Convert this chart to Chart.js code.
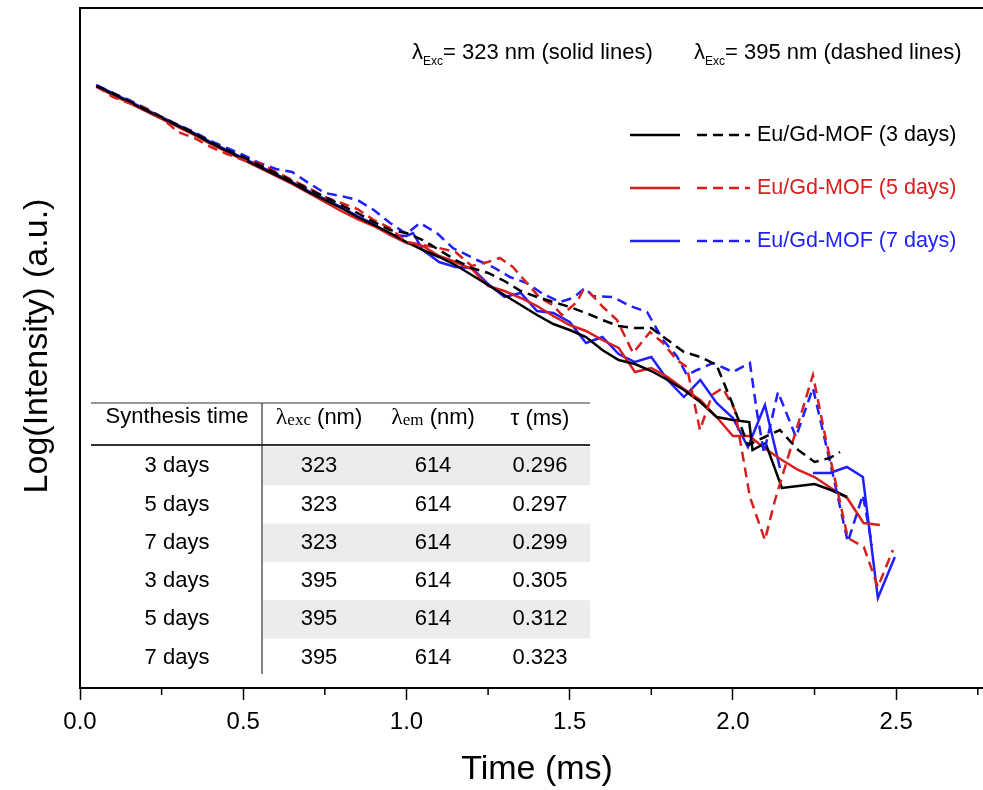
<!DOCTYPE html>
<html>
<head>
<meta charset="utf-8">
<script src="https://cdn.jsdelivr.net/npm/chart.js@4.4.0/dist/chart.umd.min.js"></script>
<style>
  html, body { margin: 0; padding: 0; background: #fff; }
  #wrap { width: 983px; height: 790px; }
</style>
</head>
<body>
<div id="wrap"><canvas id="decayChart" width="983" height="790"></canvas></div>
<script>
// decay curves, time in ms, log intensity in arbitrary units
const t3s = [0.05,0.10,0.15,0.20,0.25,0.30,0.35,0.40,0.45,0.50,0.55,0.60,0.65,0.70,0.75,0.80,0.85,0.90,0.95,1.00,1.05,1.10,1.15,1.20,1.25,1.30,1.35,1.40,1.45,1.50,1.55,1.60,1.65,1.70,1.75,1.80,1.85,1.90,1.95,2.00,2.05,2.06,2.10,2.15,2.20,2.25,2.30,2.35];
const y3s = [6.02,5.94,5.86,5.78,5.70,5.62,5.54,5.45,5.37,5.29,5.21,5.13,5.05,4.96,4.88,4.80,4.71,4.63,4.55,4.46,4.38,4.31,4.23,4.13,4.03,3.93,3.83,3.73,3.64,3.58,3.51,3.38,3.28,3.24,3.17,3.08,2.98,2.86,2.71,2.68,2.66,2.38,2.45,2.00,2.02,2.04,1.98,1.91];

const t3d = [0.05,0.10,0.15,0.20,0.25,0.30,0.35,0.40,0.45,0.50,0.55,0.60,0.65,0.70,0.75,0.80,0.85,0.90,0.95,1.00,1.05,1.10,1.15,1.20,1.25,1.30,1.35,1.40,1.45,1.50,1.55,1.60,1.65,1.70,1.75,1.80,1.85,1.90,1.95,2.00,2.046,2.098,2.144,2.20,2.25,2.297,2.328];
const y3d = [6.02,5.95,5.87,5.79,5.71,5.63,5.55,5.46,5.38,5.31,5.23,5.15,5.07,4.99,4.91,4.83,4.75,4.66,4.58,4.55,4.48,4.38,4.28,4.20,4.15,4.07,3.97,3.91,3.86,3.81,3.75,3.68,3.62,3.60,3.60,3.48,3.36,3.31,3.23,2.83,2.43,2.51,2.58,2.38,2.26,2.30,2.36];

const t5s = [0.05,0.10,0.15,0.20,0.25,0.30,0.35,0.40,0.45,0.50,0.55,0.60,0.65,0.70,0.75,0.80,0.85,0.90,0.95,1.00,1.05,1.10,1.15,1.20,1.25,1.30,1.35,1.40,1.45,1.50,1.55,1.60,1.65,1.70,1.75,1.80,1.85,1.90,1.95,2.00,2.05,2.10,2.15,2.20,2.25,2.30,2.35,2.40,2.45];
const y5s = [6.01,5.93,5.85,5.77,5.69,5.61,5.53,5.44,5.36,5.28,5.20,5.12,5.04,4.95,4.86,4.77,4.69,4.62,4.53,4.45,4.42,4.32,4.26,4.19,4.02,3.97,3.90,3.82,3.72,3.63,3.57,3.48,3.40,3.16,3.20,3.11,2.99,2.88,2.71,2.52,2.52,2.39,2.28,2.18,2.11,2.00,1.90,1.65,1.63];

const t5d = [0.05,0.10,0.15,0.20,0.25,0.30,0.35,0.40,0.45,0.50,0.55,0.60,0.65,0.70,0.75,0.80,0.85,0.90,0.95,1.00,1.05,1.10,1.15,1.20,1.25,1.286,1.326,1.369,1.409,1.449,1.476,1.522,1.541,1.562,1.602,1.645,1.694,1.746,1.786,1.828,1.859,1.899,1.936,1.969,2.006,2.052,2.098,2.129,2.245,2.285,2.322,2.352,2.401,2.444,2.490];
const y5d = [6.02,5.91,5.85,5.80,5.70,5.56,5.50,5.41,5.34,5.28,5.25,5.16,5.08,5.00,4.91,4.85,4.79,4.68,4.60,4.46,4.43,4.40,4.36,4.22,4.26,4.30,4.21,4.05,3.90,3.83,3.73,3.86,3.98,3.95,3.81,3.68,3.35,3.56,3.45,3.28,3.21,2.58,2.93,3.00,2.78,1.91,1.48,1.88,3.13,2.48,1.95,1.50,1.41,1.01,1.38];

const t7s = [0.05,0.10,0.15,0.20,0.25,0.30,0.35,0.40,0.45,0.50,0.55,0.60,0.65,0.70,0.75,0.80,0.85,0.90,0.95,1.00,1.02,1.05,1.10,1.15,1.20,1.25,1.30,1.35,1.40,1.45,1.50,1.55,1.60,1.65,1.70,1.75,1.80,1.85,1.90,1.95,2.00,2.046,2.098,2.144,2.20,2.245,2.297,2.349,2.398,2.444,2.496];
const y7s = [6.03,5.95,5.87,5.79,5.71,5.63,5.55,5.46,5.38,5.30,5.22,5.14,5.06,4.97,4.89,4.81,4.72,4.64,4.53,4.52,4.55,4.38,4.26,4.21,4.20,4.04,3.91,3.95,3.77,3.75,3.66,3.45,3.51,3.34,3.26,3.31,3.08,2.91,3.08,2.85,2.70,2.41,2.83,2.20,null,2.15,2.15,2.21,2.11,0.90,1.31];

const t7d = [0.05,0.10,0.15,0.20,0.25,0.30,0.35,0.40,0.45,0.50,0.55,0.60,0.65,0.70,0.75,0.80,0.85,0.90,0.95,1.00,1.041,1.093,1.142,1.216,1.265,1.317,1.369,1.418,1.470,1.510,1.547,1.571,1.632,1.685,1.737,1.786,1.828,1.859,1.890,1.939,2.000,2.052,2.074,2.095,2.138,2.193,2.245,2.303,2.352,2.398,2.426];
const y7d = [6.03,5.95,5.88,5.80,5.71,5.63,5.56,5.47,5.40,5.33,5.25,5.19,5.16,5.05,4.95,4.92,4.88,4.78,4.65,4.54,4.65,4.55,4.40,4.28,4.21,4.11,4.05,3.94,3.86,3.90,4.00,3.92,3.91,3.82,3.76,3.48,3.32,3.13,3.18,3.25,3.16,3.25,2.75,2.35,2.96,2.51,3.00,2.18,1.46,1.93,1.43];

const xTicks = [0, 0.5, 1.0, 1.5, 2.0, 2.5];
const xMinorTicks = [0.25, 0.75, 1.25, 1.75, 2.25, 2.75];

const legendLabels = ['Eu/Gd-MOF (3 days)', 'Eu/Gd-MOF (5 days)', 'Eu/Gd-MOF (7 days)'];

const tableTimes = ['3 days', '5 days', '7 days', '3 days', '5 days', '7 days'];
const tableExc = ['323', '323', '323', '395', '395', '395'];
const tableEm = ['614', '614', '614', '614', '614', '614'];
const tableTau = ['0.296', '0.297', '0.299', '0.305', '0.312', '0.323'];

const BLACK = '#000000';
const RED = '#d91e1e';
const BLUE = '#1f1fff';
const SANS = '"Liberation Sans", Arial, sans-serif';
const SERIF = '"Liberation Serif", "Times New Roman", serif';

function pts(t, y) {
  return t.map((x, i) => ({ x: x, y: y[i] }));
}

function line(label, t, y, color, dashed) {
  return {
    label: label,
    data: pts(t, y),
    borderColor: color,
    borderWidth: 2.5,
    borderDash: dashed ? [10, 6] : [],
    pointRadius: 0,
    tension: 0,
    fill: false,
    spanGaps: false
  };
}

// text with a subscript, returns end x
function subText(ctx, x, y, main, sub, mainFont, subFont, subDy) {
  ctx.font = mainFont;
  ctx.fillText(main, x, y);
  x += ctx.measureText(main).width;
  ctx.font = subFont;
  ctx.fillText(sub, x, y + subDy);
  return x + ctx.measureText(sub).width;
}

const extras = {
  id: 'extras',
  afterDraw(chart) {
    const ctx = chart.ctx;
    const a = chart.chartArea;
    const xs = chart.scales.x;
    ctx.save();

    // top frame
    ctx.strokeStyle = BLACK;
    ctx.lineWidth = 2;
    ctx.beginPath();
    ctx.moveTo(a.left - 1, a.top);
    ctx.lineTo(a.right, a.top);
    ctx.stroke();

    // minor ticks
    ctx.lineWidth = 1.5;
    xMinorTicks.forEach(v => {
      const px = xs.getPixelForValue(v);
      ctx.beginPath();
      ctx.moveTo(px, a.bottom);
      ctx.lineTo(px, a.bottom + 7);
      ctx.stroke();
    });

    // axis titles
    ctx.fillStyle = BLACK;
    ctx.textBaseline = 'middle';
    ctx.textAlign = 'center';
    ctx.font = '34px ' + SANS;
    ctx.fillText('Time (ms)', 537, 770);
    ctx.save();
    ctx.translate(38, 346);
    ctx.rotate(-Math.PI / 2);
    ctx.fillText('Log(Intensity) (a.u.)', 0, 0);
    ctx.restore();

    // excitation notes
    ctx.textAlign = 'left';
    let x = subText(ctx, 412, 53, 'λ', 'Exc', '22px ' + SANS, '12px ' + SANS, 9);
    ctx.font = '22px ' + SANS;
    ctx.fillText('= 323 nm (solid lines)', x, 53);
    x = subText(ctx, 694, 53, 'λ', 'Exc', '22px ' + SANS, '12px ' + SANS, 9);
    ctx.font = '22px ' + SANS;
    ctx.fillText('= 395 nm (dashed lines)', x, 53);

    // legend
    const colors = [BLACK, RED, BLUE];
    legendLabels.forEach((lab, i) => {
      const ly = 135 + i * 53;
      ctx.strokeStyle = colors[i];
      ctx.lineWidth = 2.5;
      ctx.setLineDash([]);
      ctx.beginPath();
      ctx.moveTo(630, ly);
      ctx.lineTo(680, ly);
      ctx.stroke();
      ctx.setLineDash([10, 6]);
      ctx.beginPath();
      ctx.moveTo(697, ly);
      ctx.lineTo(750, ly);
      ctx.stroke();
      ctx.setLineDash([]);
      ctx.fillStyle = colors[i];
      ctx.font = '21.5px ' + SANS;
      ctx.fillText(lab, 757, ly);
    });

    // inset table
    const tl = 91, tr = 590, tt = 403, hb = 445, rowH = 38.3, div = 262;
    const cols = [177, 319, 433, 540];
    ctx.fillStyle = '#ececec';
    [0, 2, 4].forEach(r => {
      ctx.fillRect(div + 1, hb + 2 + r * rowH, tr - div - 1, rowH);
    });
    ctx.strokeStyle = '#333';
    ctx.lineWidth = 1.2;
    ctx.beginPath();
    ctx.moveTo(tl, tt); ctx.lineTo(tr, tt);
    ctx.moveTo(div, tt); ctx.lineTo(div, 674);
    ctx.stroke();
    ctx.lineWidth = 2;
    ctx.beginPath();
    ctx.moveTo(tl, hb); ctx.lineTo(tr, hb);
    ctx.stroke();

    ctx.fillStyle = BLACK;
    ctx.textAlign = 'center';
    ctx.font = '22px ' + SANS;
    ctx.fillText('Synthesis time', cols[0], 417);
    ctx.fillText('τ (ms)', cols[3], 419);

    // λexc (nm), λem (nm) headers
    ctx.textAlign = 'left';
    [['exc', cols[1]], ['em', cols[2]]].forEach(([sub, cx]) => {
      ctx.font = '24px ' + SERIF;
      const w1 = ctx.measureText('λ').width;
      ctx.font = '17px ' + SERIF;
      const w2 = ctx.measureText(sub).width;
      ctx.font = '22px ' + SANS;
      const w3 = ctx.measureText(' (nm)').width;
      let sx = cx - (w1 + w2 + w3) / 2;
      sx = subText(ctx, sx, 418, 'λ', sub, '24px ' + SERIF, '17px ' + SERIF, 3);
      ctx.font = '22px ' + SANS;
      ctx.fillText(' (nm)', sx, 418);
    });

    ctx.textAlign = 'center';
    ctx.font = '22px ' + SANS;
    tableTimes.forEach((lab, r) => {
      const ry = hb + 2 + r * rowH + rowH / 2;
      ctx.fillText(lab, cols[0], ry);
      ctx.fillText(tableExc[r], cols[1], ry);
      ctx.fillText(tableEm[r], cols[2], ry);
      ctx.fillText(tableTau[r], cols[3], ry);
    });

    ctx.restore();
  }
};

const chart = new Chart(document.getElementById('decayChart'), {
  type: 'line',
  data: {
    datasets: [
      line('Eu/Gd-MOF (3 days) 395 nm', t3d, y3d, BLACK, true),
      line('Eu/Gd-MOF (5 days) 395 nm', t5d, y5d, RED, true),
      line('Eu/Gd-MOF (7 days) 395 nm', t7d, y7d, BLUE, true),
      line('Eu/Gd-MOF (3 days) 323 nm', t3s, y3s, BLACK, false),
      line('Eu/Gd-MOF (5 days) 323 nm', t5s, y5s, RED, false),
      line('Eu/Gd-MOF (7 days) 323 nm', t7s, y7s, BLUE, false)
    ]
  },
  options: {
    responsive: false,
    animation: false,
    devicePixelRatio: 1,
    layout: { padding: { top: 8, left: 0, right: 0, bottom: 0 } },
    plugins: { legend: { display: false }, tooltip: { enabled: false } },
    scales: {
      x: {
        type: 'linear',
        min: 0,
        max: 2.766,
        afterBuildTicks: s => { s.ticks = xTicks.map(v => ({ value: v })); },
        afterFit: s => { s.height = 102; },
        ticks: {
          color: BLACK,
          padding: 8,
          font: { family: SANS, size: 24 },
          callback: v => v.toFixed(1)
        },
        grid: {
          drawOnChartArea: false,
          tickLength: 12,
          tickWidth: 1.5,
          tickColor: BLACK
        },
        border: { color: BLACK, width: 2 }
      },
      y: {
        min: 0,
        max: 6.8,
        afterFit: s => { s.width = 80; },
        ticks: { display: false },
        grid: { drawOnChartArea: false, drawTicks: false },
        border: { color: BLACK, width: 2 }
      }
    }
  },
  plugins: [extras]
});
</script>
</body>
</html>
